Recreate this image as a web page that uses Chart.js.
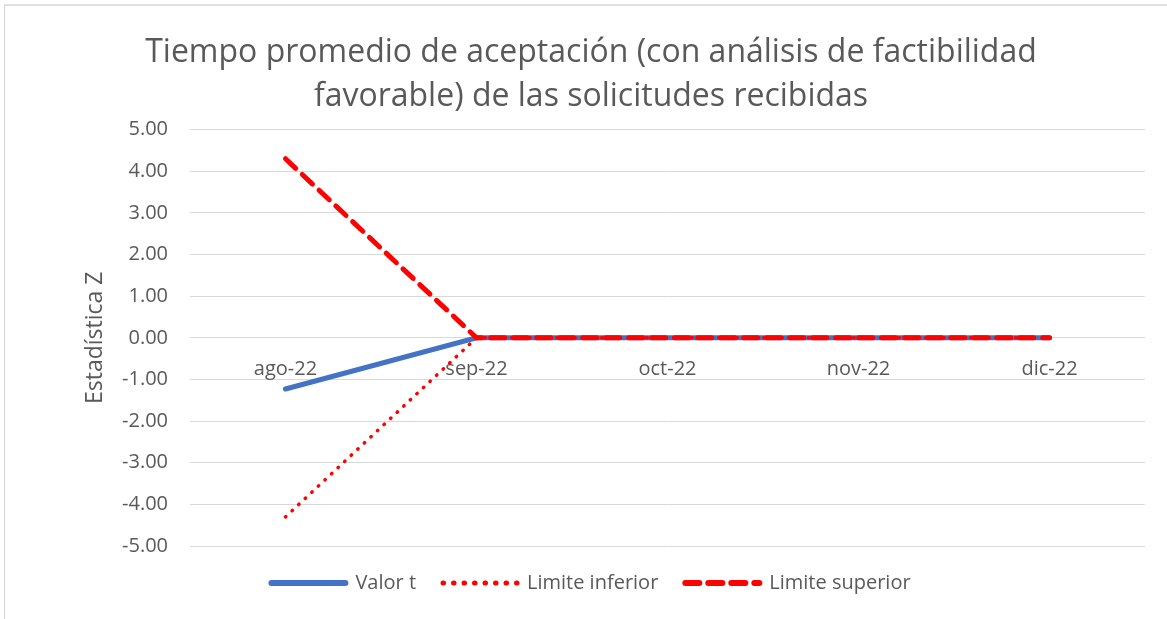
<!DOCTYPE html>
<html>
<head>
<meta charset="utf-8">
<script src="https://cdn.jsdelivr.net/npm/chart.js@4"></script>
<style>
  body { margin: 0; background: #fff; }
  #wrap { position: relative; width: 1167px; height: 619px; }
  #frame { position: absolute; left: 4px; top: 4px; right: 0; bottom: 0;
           border-left: 1px solid #d6d6d6; border-top: 2px solid #e0e0e0; pointer-events: none; }
</style>
</head>
<body>
<div id="wrap">
  <canvas id="chart" width="1167" height="619"></canvas>
  <div id="frame"></div>
</div>
<script>
const months = ['ago-22', 'sep-22', 'oct-22', 'nov-22', 'dic-22'];
const valorT = [-1.23, 0, 0, 0, 0];
const limiteInferior = [-4.3, 0, 0, 0, 0];
const limiteSuperior = [4.3, 0, 0, 0, 0];
const titleLines = ['Tiempo promedio de aceptación (con análisis de factibilidad', 'favorable) de las solicitudes recibidas'];

const grey = '#595959';
Chart.defaults.font.family = "'Open Sans'";
Chart.defaults.color = grey;

function legendLabels(chart) {
  const base = Chart.defaults.plugins.legend.labels.generateLabels(chart);
  return base.map(item => {
    const ds = chart.data.datasets[item.datasetIndex];
    item.lineDash = ds.legendDash || ds.borderDash || [];
    item.lineCap = 'round';
    item.lineWidth = ds.legendWidth || ds.borderWidth;
    item.strokeStyle = ds.borderColor;
    return item;
  });
}

function createLineChart(id) {
  const ctx = document.getElementById(id).getContext('2d');
  return new Chart(ctx, {
    type: 'line',
    data: {
      labels: months,
      datasets: [{
        label: 'Valor t',
        data: valorT,
        borderColor: '#4472C4',
        backgroundColor: '#4472C4',
        borderWidth: 5,
        borderCapStyle: 'round',
        legendWidth: 6,
        order: 3
      }, {
        label: 'Limite inferior',
        data: limiteInferior,
        borderColor: '#FF0000',
        backgroundColor: '#FF0000',
        borderWidth: 3.5,
        borderDash: [0.5, 8.5],
        borderCapStyle: 'round',
        legendWidth: 5,
        legendDash: [0.5, 10],
        order: 2
      }, {
        label: 'Limite superior',
        data: limiteSuperior,
        borderColor: '#FF0000',
        backgroundColor: '#FF0000',
        borderWidth: 5,
        borderDash: [14, 9],
        borderCapStyle: 'round',
        legendWidth: 6,
        legendDash: [14, 9],
        order: 1
      }]
    },
    options: {
      responsive: false,
      animation: false,
      clip: false,
      elements: { point: { radius: 0 }, line: { tension: 0 } },
      layout: { padding: { left: 37, right: 22, top: 0, bottom: 16 } },
      plugins: {
        title: {
          display: true,
          text: titleLines,
          color: grey,
          font: { size: 32, weight: 'normal', lineHeight: 1.4 },
          padding: { top: 30, bottom: 10 }
        },
        legend: {
          position: 'bottom',
          labels: {
            usePointStyle: true,
            pointStyle: 'line',
            pointStyleWidth: 74,
            padding: 27,
            font: { size: 20 },
            color: grey,
            generateLabels: legendLabels,
            sort: (a, b) => a.datasetIndex - b.datasetIndex
          }
        },
        tooltip: { enabled: false }
      },
      scales: {
        x: {
          type: 'category',
          offset: true,
          position: { y: 0 },
          grid: { display: false, drawTicks: false },
          border: { display: false },
          ticks: { font: { size: 20 }, padding: 19, color: grey }
        },
        y: {
          min: -5,
          max: 5,
          grid: { color: '#d9d9d9', lineWidth: 1, drawTicks: false },
          border: { display: false },
          ticks: {
            stepSize: 1,
            padding: 22,
            font: { size: 20 },
            color: grey,
            callback: v => v.toFixed(2)
          },
          title: {
            display: true,
            text: 'Estadística Z',
            font: { size: 23 },
            color: grey,
            padding: { top: 45 }
          },
          afterFit: scale => { scale.width = 153; }
        }
      }
    }
  });
}

createLineChart('chart');
</script>
</body>
</html>
